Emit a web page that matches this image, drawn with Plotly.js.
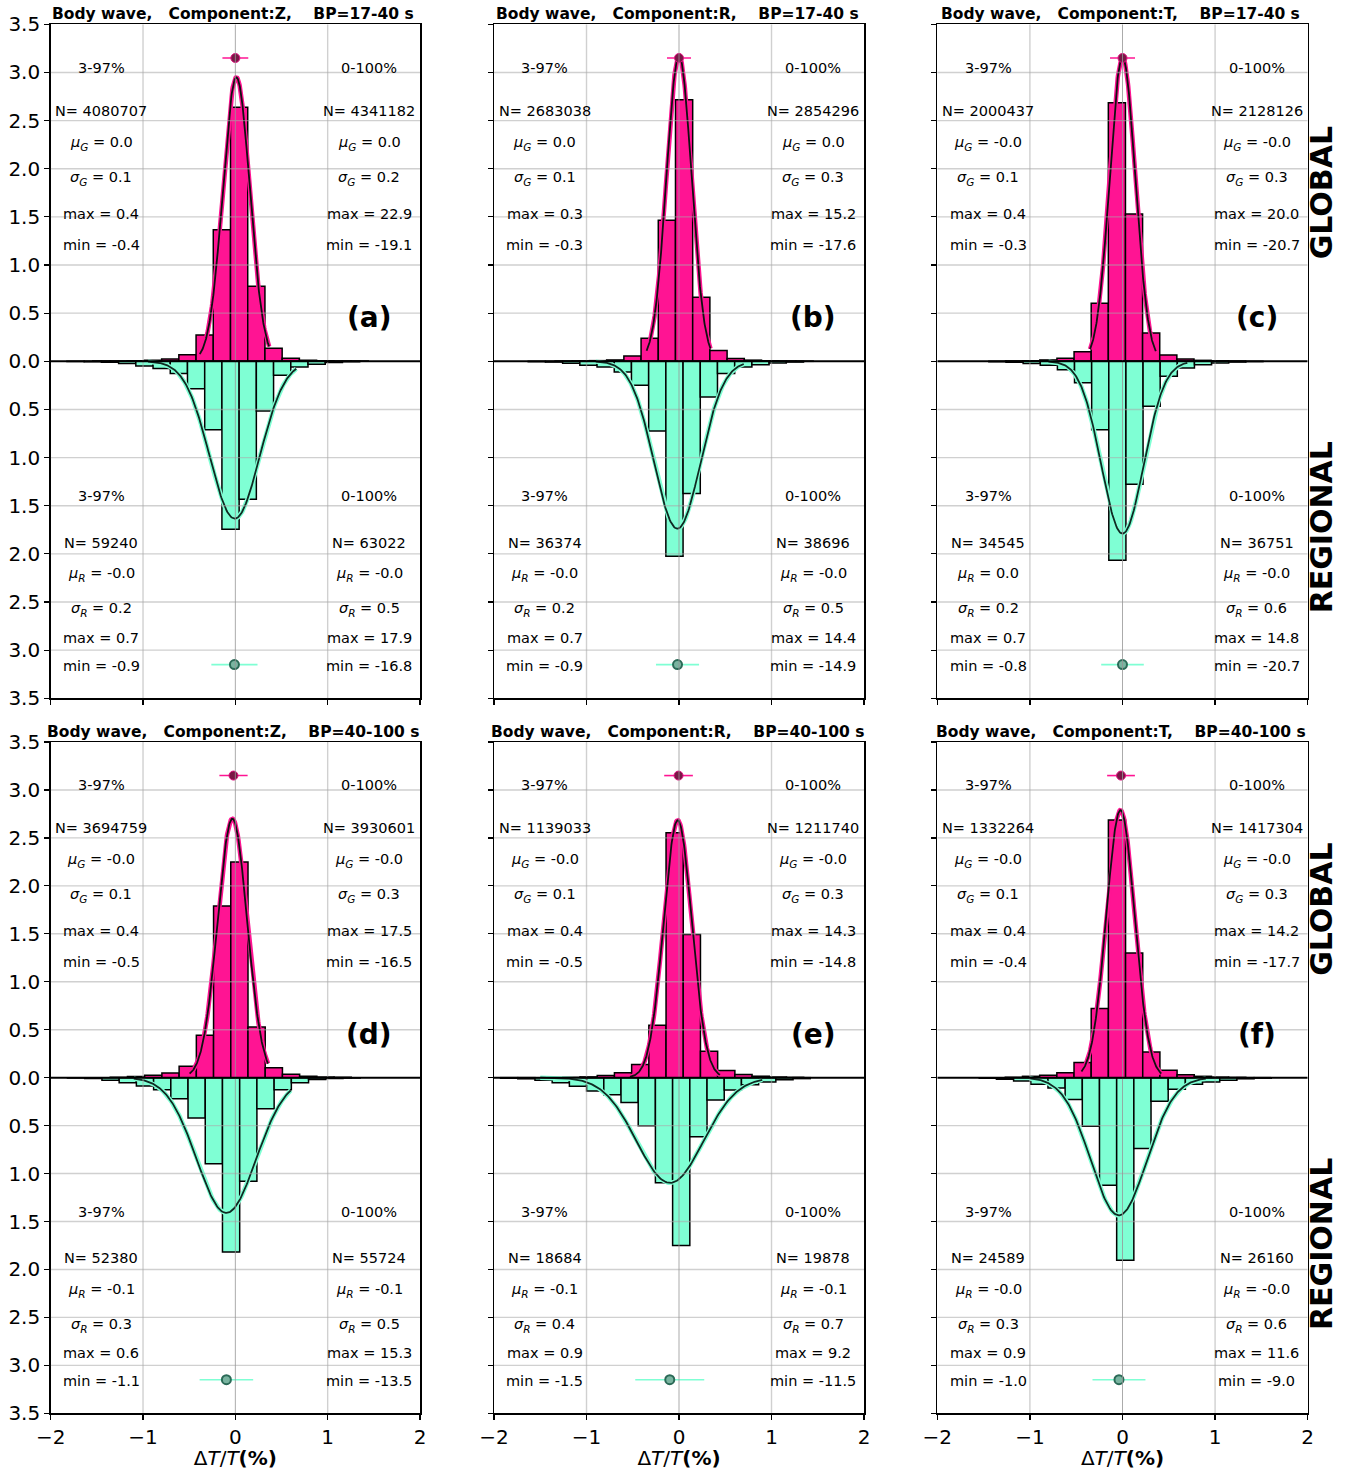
<!DOCTYPE html>
<html>
<head>
<meta charset="utf-8">
<script src="https://cdn.plot.ly/plotly-3.0.1.min.js"></script>
<style>
  html, body { margin: 0; padding: 0; background: #ffffff; }
  #chart { width: 1349px; height: 1470px; }
</style>
</head>
<body>
<div id="chart"></div>
<script>
// ---------------- DATA ----------------
const panelLabels = ['(a)', '(b)', '(c)', '(d)', '(e)', '(f)'];
const components  = ['Z', 'R', 'T', 'Z', 'R', 'T'];
const bandPasses  = ['17-40 s', '17-40 s', '17-40 s', '40-100 s', '40-100 s', '40-100 s'];

const xTickVals = [-2, -1, 0, 1, 2];
const yTickVals = [-3.5, -3, -2.5, -2, -1.5, -1, -0.5, 0, 0.5, 1, 1.5, 2, 2.5, 3, 3.5];

// histogram bins: left edge of first bin + bin width (ΔT/T %), heights (density)
const binWidth      = [0.1865, 0.186, 0.185, 0.1865, 0.186, 0.1855];
const globalStart   = [-1.5445, -1.34, -1.263, -1.355, -1.256, -1.2655];
const regionalStart = [-1.824, -1.63, -1.443, -1.818, -1.929, -1.547];

const globalHistA = [0.002, 0.004, 0.007, 0.012, 0.024, 0.069, 0.273, 1.367, 2.638, 0.779, 0.135, 0.031, 0.012, 0.006, 0.003, 0.002];
const globalHistB = [0.002, 0.004, 0.007, 0.014, 0.055, 0.239, 1.464, 2.717, 0.665, 0.111, 0.028, 0.012, 0.006, 0.003, 0.002];
const globalHistC = [0.003, 0.006, 0.014, 0.031, 0.100, 0.602, 2.686, 1.530, 0.294, 0.066, 0.024, 0.010, 0.005, 0.002];
const globalHistD = [0.004, 0.012, 0.024, 0.049, 0.118, 0.441, 1.790, 2.249, 0.528, 0.104, 0.035, 0.014, 0.006, 0.003];
const globalHistE = [0.003, 0.008, 0.022, 0.052, 0.138, 0.546, 2.554, 1.494, 0.275, 0.074, 0.033, 0.015, 0.007, 0.003];
const globalHistF = [0.004, 0.014, 0.024, 0.052, 0.157, 0.720, 2.686, 1.301, 0.268, 0.077, 0.031, 0.014, 0.006, 0.003];

const regionalHistA = [0.002, 0.005, 0.010, 0.024, 0.048, 0.076, 0.128, 0.284, 0.710, 1.745, 1.433, 0.516, 0.145, 0.059, 0.031, 0.012, 0.005];
const regionalHistB = [0.004, 0.008, 0.020, 0.042, 0.059, 0.111, 0.249, 0.723, 2.025, 1.374, 0.370, 0.128, 0.059, 0.035, 0.017, 0.008];
const regionalHistC = [0.004, 0.010, 0.024, 0.042, 0.087, 0.222, 0.710, 2.066, 1.277, 0.467, 0.156, 0.069, 0.035, 0.017, 0.008, 0.003];
const regionalHistD = [0.004, 0.010, 0.028, 0.052, 0.087, 0.125, 0.219, 0.420, 0.897, 1.818, 1.081, 0.323, 0.125, 0.052, 0.020, 0.008, 0.003];
const regionalHistE = [0.006, 0.012, 0.028, 0.052, 0.090, 0.140, 0.178, 0.260, 0.502, 1.097, 1.751, 0.617, 0.234, 0.128, 0.075, 0.045, 0.022, 0.010];
const regionalHistF = [0.005, 0.017, 0.035, 0.070, 0.108, 0.229, 0.507, 1.123, 1.905, 0.740, 0.247, 0.122, 0.070, 0.045, 0.028, 0.012, 0.005];

// Gaussian fits (amplitude, mean, sigma, drawn between 3-97% min and max)
const globalFitAmp   = [2.95, 3.174, 3.157, 2.70, 2.684, 2.79];
const globalFitMu    = [0.011, 0.0, 0.0, -0.032, -0.014, -0.022];
const globalFitSigma = [0.146, 0.135, 0.138, 0.16, 0.152, 0.153];
const globalFitMin   = [-0.385, -0.35, -0.35, -0.495, -0.53, -0.443];
const globalFitMax   = [0.366, 0.34, 0.36, 0.354, 0.443, 0.42];

const regionalFitAmp   = [1.634, 1.738, 1.79, 1.411, 1.097, 1.436];
const regionalFitMu    = [-0.007, -0.018, 0.0, -0.097, -0.097, -0.04];
const regionalFitSigma = [0.27, 0.25, 0.227, 0.32, 0.36, 0.3];
const regionalFitMin   = [-0.946, -0.9, -0.8, -1.1, -1.5, -1.0];
const regionalFitMax   = [0.66, 0.7, 0.7, 0.6, 0.9, 0.9];

// mean ± sigma markers
const pointLevel       = 3.15;
const globalPointX     = [0.0, 0.0, 0.0, -0.02, -0.005, -0.016];
const globalPointErr   = [0.14, 0.13, 0.135, 0.153, 0.155, 0.15];
const regionalPointX   = [-0.01, -0.016, 0.0, -0.097, -0.10, -0.038];
const regionalPointErr = [0.25, 0.233, 0.23, 0.29, 0.373, 0.286];

// statistics text (3-97% = trim, 0-100% = all)
const nGlobalTrim     = ['4080707', '2683038', '2000437', '3694759', '1139033', '1332264'];
const nGlobalAll      = ['4341182', '2854296', '2128126', '3930601', '1211740', '1417304'];
const muGlobalTrim    = ['0.0', '0.0', '-0.0', '-0.0', '-0.0', '-0.0'];
const muGlobalAll     = ['0.0', '0.0', '-0.0', '-0.0', '-0.0', '-0.0'];
const sigmaGlobalTrim = ['0.1', '0.1', '0.1', '0.1', '0.1', '0.1'];
const sigmaGlobalAll  = ['0.2', '0.3', '0.3', '0.3', '0.3', '0.3'];
const maxGlobalTrim   = ['0.4', '0.3', '0.4', '0.4', '0.4', '0.4'];
const maxGlobalAll    = ['22.9', '15.2', '20.0', '17.5', '14.3', '14.2'];
const minGlobalTrim   = ['-0.4', '-0.3', '-0.3', '-0.5', '-0.5', '-0.4'];
const minGlobalAll    = ['-19.1', '-17.6', '-20.7', '-16.5', '-14.8', '-17.7'];

const nRegionalTrim     = ['59240', '36374', '34545', '52380', '18684', '24589'];
const nRegionalAll      = ['63022', '38696', '36751', '55724', '19878', '26160'];
const muRegionalTrim    = ['-0.0', '-0.0', '0.0', '-0.1', '-0.1', '-0.0'];
const muRegionalAll     = ['-0.0', '-0.0', '-0.0', '-0.1', '-0.1', '-0.0'];
const sigmaRegionalTrim = ['0.2', '0.2', '0.2', '0.3', '0.4', '0.3'];
const sigmaRegionalAll  = ['0.5', '0.5', '0.6', '0.5', '0.7', '0.6'];
const maxRegionalTrim   = ['0.7', '0.7', '0.7', '0.6', '0.9', '0.9'];
const maxRegionalAll    = ['17.9', '14.4', '14.8', '15.3', '9.2', '11.6'];
const minRegionalTrim   = ['-0.9', '-0.9', '-0.8', '-1.1', '-1.5', '-1.0'];
const minRegionalAll    = ['-16.8', '-14.9', '-20.7', '-13.5', '-11.5', '-9.0'];

// ---------------- DRAWING ----------------
const globalHists   = [globalHistA, globalHistB, globalHistC, globalHistD, globalHistE, globalHistF];
const regionalHists = [regionalHistA, regionalHistB, regionalHistC, regionalHistD, regionalHistE, regionalHistF];

const W = 1349, H = 1470;
const colPx = [[50.7, 420], [494, 864], [937.3, 1307.7]];
const rowPx = [[24.3, 698.3], [742, 1413.3]];
const FONT = 'DejaVu Sans';
const PINK = '#FF1493', AQUA = '#7FFFD4';
const GRID = 'rgba(170,170,170,0.55)';

const textXLeft = -1.45, textXRight = 1.45;
const globalTextY   = [3.05, 2.6, 2.26, 1.9, 1.525, 1.21];
const regionalTextY = [-1.4, -1.885, -2.215, -2.58, -2.875, -3.16];

function centers(start, width, n) {
  const c = [];
  for (let k = 0; k < n; k++) c.push(start + width * (k + 0.5));
  return c;
}
function gauss(amp, mu, sigma, x0, x1, sign) {
  const xs = [], ys = [];
  const n = 200;
  for (let k = 0; k <= n; k++) {
    const x = x0 + (x1 - x0) * k / n;
    xs.push(x);
    ys.push(sign * amp * Math.exp(-0.5 * Math.pow((x - mu) / sigma, 2)));
  }
  return { xs, ys };
}
// italic greek letter with a smaller, lowered italic index (no <sub>, to avoid zero-width reset spans)
function symbolText(letter, idx, value) {
  return '<i>' + letter + '</i><span style="font-size:10.5px;baseline-shift:-3.5px"><i>' + idx + '</i></span> = ' + value;
}

const traces = [];
const shapes = [];
const annotations = [];
const layout = {
  width: W, height: H,
  margin: { l: 0, r: 0, t: 0, b: 0 },
  paper_bgcolor: '#ffffff', plot_bgcolor: '#ffffff',
  font: { family: FONT, color: '#000000' },
  showlegend: false,
  barmode: 'overlay',
  hovermode: false
};

for (let i = 0; i < 6; i++) {
  const row = Math.floor(i / 3), col = i % 3;
  const s = i === 0 ? '' : String(i + 1);
  const xa = 'x' + s, ya = 'y' + s;

  layout['xaxis' + s] = {
    domain: [colPx[col][0] / W, colPx[col][1] / W],
    anchor: ya, range: [-2, 2], tickvals: xTickVals,
    showticklabels: row === 1,
    ticks: 'outside', ticklen: 5, tickwidth: 1.2, tickcolor: '#000',
    showline: true, linecolor: '#000', linewidth: 1.5, mirror: true,
    showgrid: false, zeroline: false,
    tickfont: { size: 20, family: FONT, color: '#000' },
    title: row === 1 ? { text: 'Δ<i>T</i>/<i>T</i><b>(%)</b>', font: { size: 20, family: FONT, color: '#000' }, standoff: 3 } : { text: '' }
  };
  layout['yaxis' + s] = {
    domain: [1 - rowPx[row][1] / H, 1 - rowPx[row][0] / H],
    anchor: xa, range: [-3.5, 3.5],
    tickvals: yTickVals, ticktext: yTickVals.map(v => Math.abs(v).toFixed(1)),
    showticklabels: col === 0,
    ticks: 'outside', ticklen: 5, tickwidth: 1.2, tickcolor: '#000',
    showline: true, linecolor: '#000', linewidth: 1.5, mirror: true,
    showgrid: false, zeroline: false,
    tickfont: { size: 20, family: FONT, color: '#000' }
  };

  // histograms
  const gH = globalHists[i], rH = regionalHists[i];
  traces.push({
    type: 'bar', xaxis: xa, yaxis: ya,
    x: centers(globalStart[i], binWidth[i], gH.length), y: gH,
    width: binWidth[i],
    marker: { color: PINK, line: { color: '#000', width: 1.5 } }
  });
  traces.push({
    type: 'bar', xaxis: xa, yaxis: ya,
    x: centers(regionalStart[i], binWidth[i], rH.length), y: rH.map(v => -v),
    width: binWidth[i],
    marker: { color: AQUA, line: { color: '#000', width: 1.5 } }
  });

  // gaussian fits
  const g = gauss(globalFitAmp[i], globalFitMu[i], globalFitSigma[i], globalFitMin[i], globalFitMax[i], 1);
  const r = gauss(regionalFitAmp[i], regionalFitMu[i], regionalFitSigma[i], regionalFitMin[i], regionalFitMax[i], -1);
  traces.push({ type: 'scatter', mode: 'lines', xaxis: xa, yaxis: ya, x: g.xs, y: g.ys, line: { color: PINK, width: 4.5 } });
  traces.push({ type: 'scatter', mode: 'lines', xaxis: xa, yaxis: ya, x: g.xs, y: g.ys, line: { color: '#111', width: 1.8 } });
  traces.push({ type: 'scatter', mode: 'lines', xaxis: xa, yaxis: ya, x: r.xs, y: r.ys, line: { color: AQUA, width: 4.5 } });
  traces.push({ type: 'scatter', mode: 'lines', xaxis: xa, yaxis: ya, x: r.xs, y: r.ys, line: { color: '#0f2a22', width: 1.8 } });

  // mean ± sigma markers
  traces.push({
    type: 'scatter', mode: 'markers', xaxis: xa, yaxis: ya,
    x: [globalPointX[i]], y: [pointLevel],
    error_x: { type: 'data', array: [globalPointErr[i]], color: PINK, thickness: 1.6, width: 0 },
    marker: { size: 9, color: '#7a1746', line: { color: '#e0117f', width: 1 } }
  });
  traces.push({
    type: 'scatter', mode: 'markers', xaxis: xa, yaxis: ya,
    x: [regionalPointX[i]], y: [-pointLevel],
    error_x: { type: 'data', array: [regionalPointErr[i]], color: AQUA, thickness: 1.6, width: 0 },
    marker: { size: 9, color: '#79b4a0', line: { color: '#2b6a57', width: 2 } }
  });

  // grid lines drawn above bars
  yTickVals.filter(v => Math.abs(v) < 3.5 && v !== 0).forEach(v => {
    shapes.push({ type: 'line', xref: xa, yref: ya, x0: -2, x1: 2, y0: v, y1: v, layer: 'above', line: { color: GRID, width: 1.4 } });
  });
  xTickVals.filter(v => Math.abs(v) < 2).forEach(v => {
    shapes.push({ type: 'line', xref: xa, yref: ya, x0: v, x1: v, y0: -3.5, y1: 3.5, layer: 'above',
      line: { color: v === 0 ? 'rgba(150,150,150,0.8)' : GRID, width: v === 0 ? 1 : 1.4 } });
  });
  shapes.push({ type: 'line', xref: xa, yref: ya, x0: -2, x1: 2, y0: 0, y1: 0, layer: 'above', line: { color: '#000', width: 2 } });

  // panel title
  const cx = (colPx[col][0] + colPx[col][1]) / 2 - 2;
  annotations.push({
    xref: 'paper', yref: 'paper', x: cx / W, y: 1 - (rowPx[row][0] - 10) / H,
    xanchor: 'center', yanchor: 'middle', showarrow: false,
    text: '<b>Body wave,\u00a0\u00a0\u00a0Component:' + components[i] + ',\u00a0\u00a0\u00a0\u00a0BP=' + bandPasses[i] + '</b>',
    font: { size: 15.5, family: FONT, color: '#000' }
  });

  // panel label
  annotations.push({
    xref: xa, yref: ya, x: 1.45, y: 0.45, showarrow: false,
    text: '<b>' + panelLabels[i] + '</b>', font: { size: 28, family: FONT, color: '#000' }
  });

  // statistics
  const gLeft = ['3-97%', 'N= ' + nGlobalTrim[i], symbolText('μ', 'G', muGlobalTrim[i]),
    symbolText('σ', 'G', sigmaGlobalTrim[i]), 'max = ' + maxGlobalTrim[i], 'min = ' + minGlobalTrim[i]];
  const gRight = ['0-100%', 'N= ' + nGlobalAll[i], symbolText('μ', 'G', muGlobalAll[i]),
    symbolText('σ', 'G', sigmaGlobalAll[i]), 'max = ' + maxGlobalAll[i], 'min = ' + minGlobalAll[i]];
  const rLeft = ['3-97%', 'N= ' + nRegionalTrim[i], symbolText('μ', 'R', muRegionalTrim[i]),
    symbolText('σ', 'R', sigmaRegionalTrim[i]), 'max = ' + maxRegionalTrim[i], 'min = ' + minRegionalTrim[i]];
  const rRight = ['0-100%', 'N= ' + nRegionalAll[i], symbolText('μ', 'R', muRegionalAll[i]),
    symbolText('σ', 'R', sigmaRegionalAll[i]), 'max = ' + maxRegionalAll[i], 'min = ' + minRegionalAll[i]];
  const addTexts = (texts, x, ys) => texts.forEach((t, k) => annotations.push({
    xref: xa, yref: ya, x: x, y: ys[k], showarrow: false, xanchor: 'center', yanchor: 'middle',
    text: t, font: { size: 14.5, family: FONT, color: '#000' }
  }));
  addTexts(gLeft, textXLeft, globalTextY);
  addTexts(gRight, textXRight, globalTextY);
  addTexts(rLeft, textXLeft, regionalTextY);
  addTexts(rRight, textXRight, regionalTextY);
}

// side labels
[['y3', 1.75, 'GLOBAL'], ['y3', -1.73, 'REGIONAL'], ['y6', 1.755, 'GLOBAL'], ['y6', -1.74, 'REGIONAL']].forEach(d => {
  annotations.push({
    xref: 'paper', yref: d[0], x: 1321.5 / W, y: d[1], showarrow: false, textangle: -90,
    xanchor: 'center', yanchor: 'middle',
    text: '<b>' + d[2] + '</b>', font: { size: 30, family: FONT, color: '#000' }
  });
});

layout.shapes = shapes;
layout.annotations = annotations;

Plotly.newPlot('chart', traces, layout, { staticPlot: true, displayModeBar: false });
</script>
</body>
</html>
